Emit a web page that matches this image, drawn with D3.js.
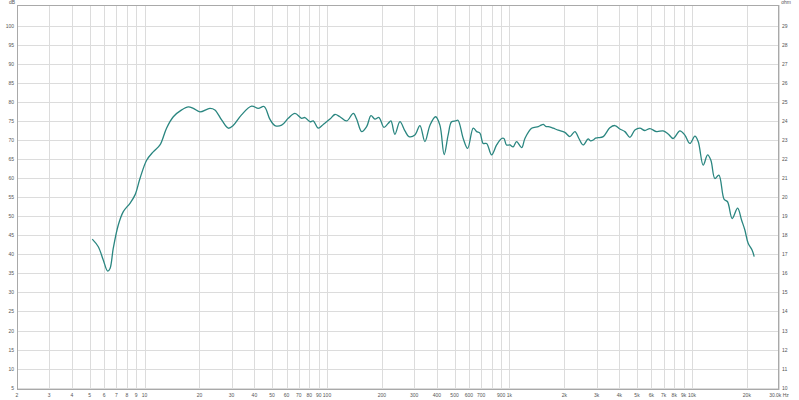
<!DOCTYPE html>
<html>
<head>
<meta charset="utf-8">
<script src="https://cdn.jsdelivr.net/npm/d3@7"></script>
<style>
  html, body { margin: 0; padding: 0; background: #fff; }
  svg { display: block; }
  text { font-family: "Liberation Sans", "DejaVu Sans", sans-serif; fill: #555; }
</style>
</head>
<body>
<svg id="chart" width="799" height="400"></svg>
<script>
// ---- Data ----
const freqs = [5.17,5.58,5.94,6.28,6.47,6.74,7.18,7.65,8.32,8.87,9.44,10.27,11.16,12.15,13.2,14.38,15.98,17.38,18.5,20.1,22.8,24.3,26.5,28.8,30.6,34.0,38.6,42.0,45.2,48.7,51.8,56.4,61.3,66.7,72.6,75.7,80.6,84.1,89.6,95.4,103.8,110.5,117.7,128,139.4,145.3,154.9,164.9,174.2,183.1,192.7,205.2,216.7,224,235.6,251,267.4,281,303,323,344,366.8,393.7,415.6,438.6,461,481.6,507,522,557.8,589.9,633,661,688.7,718,749.6,798,850.4,905.7,933,963,1005,1047,1094,1166,1215,1322,1438,1490,1532,1580,1630,1690,1737,1850,2012,2143,2283,2402,2536,2698,2780,2876,2960,3063,3264,3548,3782,4028,4292,4572,4867,5184,5520,5882,6400,6952,7408,7893,8590,9142,9745,10380,10820,11525,12182,12700,13358,14047,15020,15670,16620,17790,18700,19500,20330,21380,21930];
const splDb = [44.0,42.0,38.5,35.6,36.3,41.6,47.7,51.2,53.4,55.6,59.9,64.7,66.9,68.7,73.1,76.1,77.9,78.7,78.3,77.4,78.3,77.9,75.2,73.1,73.8,76.6,78.9,78.3,78.8,75.4,73.8,73.9,75.7,77.0,75.7,75.9,74.8,75.0,73.1,74.1,75.5,76.7,76.1,75.0,77.0,75.5,72.2,73.5,76.4,75.5,75.9,73.3,74.4,75.0,71.5,74.8,72.4,70.9,71.3,73.8,69.6,73.9,76.1,73.9,66.2,71.3,74.8,75.0,75.2,70.4,67.8,73.1,72.2,71.8,69.1,69.1,66.1,68.7,70.4,70.4,68.7,68.7,68.2,69.6,68.0,70.4,73.1,73.5,73.9,74.1,73.6,73.5,73.3,73.1,72.6,72.0,70.9,72.2,70.4,68.7,70.3,69.8,70.0,70.5,70.6,70.9,73.2,73.8,72.9,72.2,70.7,72.6,73.1,72.5,73.0,72.2,72.4,71.6,70.4,72.4,71.3,69.1,71.0,69.6,63.4,66.1,64.7,59.9,60.8,54.4,53.8,49.4,52.1,49.0,46.4,42.9,41.1,39.4];

const xGridValues = [2,3,4,5,6,7,8,9,10,20,30,40,50,60,70,80,90,100,200,300,400,500,600,700,800,900,1000,2000,3000,4000,5000,6000,7000,8000,9000,10000,20000,30000];
const xTickValues = [2,3,4,5,6,7,8,9,10,20,30,40,50,60,70,80,90,100,200,300,400,500,600,700,900,1000,2000,3000,4000,5000,6000,7000,8000,9000,10000,20000,30000];
const xTickLabels = ["2","3","4","5","6","7","8","9","10","20","30","40","50","60","70","80","90","100","200","300","400","500","600","700","900","1k","2k","3k","4k","5k","6k","7k","8k","9k","10k","20k","30.0k Hz"];
const dbTicks = [5,10,15,20,25,30,35,40,45,50,55,60,65,70,75,80,85,90,95,100];
const ohmTicks = [10,11,12,13,14,15,16,17,18,19,20,21,22,23,24,25,26,27,28,29];
const leftUnit = "dB";
const rightUnit = "ohm";

// ---- Layout ----
const L = 17, R = 779, T = 5, B = 390;
const svg = d3.select("#chart");

const x = d3.scaleLog().domain([2, 30000]).range([L, R]);
const y = d3.scaleLinear().domain([5, 100]).range([387.7, 25.7]);
const yOhm = d3.scaleLinear().domain([10, 29]).range([387.7, 25.7]);

svg.append("rect").attr("x",0).attr("y",0).attr("width",799).attr("height",400).attr("fill","#fff");

// grid
const grid = svg.append("g");
grid.selectAll("line.v").data(xGridValues).join("line")
  .attr("x1", d => Math.round(x(d)) + 0.5).attr("x2", d => Math.round(x(d)) + 0.5)
  .attr("y1", T).attr("y2", B)
  .attr("stroke", "#dcdcdc").attr("stroke-width", 1);
grid.selectAll("line.h").data(dbTicks).join("line")
  .attr("x1", L).attr("x2", R)
  .attr("y1", d => Math.round(y(d)) + 0.5).attr("y2", d => Math.round(y(d)) + 0.5)
  .attr("stroke", "#dcdcdc").attr("stroke-width", 1);

// frame
svg.append("rect").attr("x", L + 0.5).attr("y", T + 0.5)
  .attr("width", R - L - 1).attr("height", B - T - 1)
  .attr("fill", "none").attr("stroke", "#a9a9a9").attr("stroke-width", 1);

// left axis labels
svg.append("g").selectAll("text").data(dbTicks).join("text")
  .attr("x", 14).attr("y", d => y(d) + 2)
  .attr("text-anchor", "end").attr("font-size", 5)
  .text(d => d);
// right axis labels
svg.append("g").selectAll("text").data(ohmTicks).join("text")
  .attr("x", 782).attr("y", d => yOhm(d) + 2)
  .attr("text-anchor", "start").attr("font-size", 5)
  .text(d => d);
// bottom labels
svg.append("g").selectAll("text").data(xTickValues).join("text")
  .attr("x", d => x(d)).attr("y", 397)
  .attr("text-anchor", "middle").attr("font-size", 5)
  .text((d, i) => xTickLabels[i]);
// unit labels
svg.append("text").attr("x", 12).attr("y", 4).attr("text-anchor", "middle").attr("font-size", 5).text(leftUnit);
svg.append("text").attr("x", 786).attr("y", 4).attr("text-anchor", "middle").attr("font-size", 5).text(rightUnit);

// curve
const pts = freqs.map((f, i) => [f, splDb[i]]);
const line = d3.line().x(d => x(d[0])).y(d => y(d[1])).curve(d3.curveCatmullRom.alpha(0.5));
svg.append("path").datum(pts).attr("d", line)
  .attr("fill", "none").attr("stroke", "#2a8680").attr("stroke-width", 1.3)
  .attr("stroke-linejoin", "round");
</script>
</body>
</html>
